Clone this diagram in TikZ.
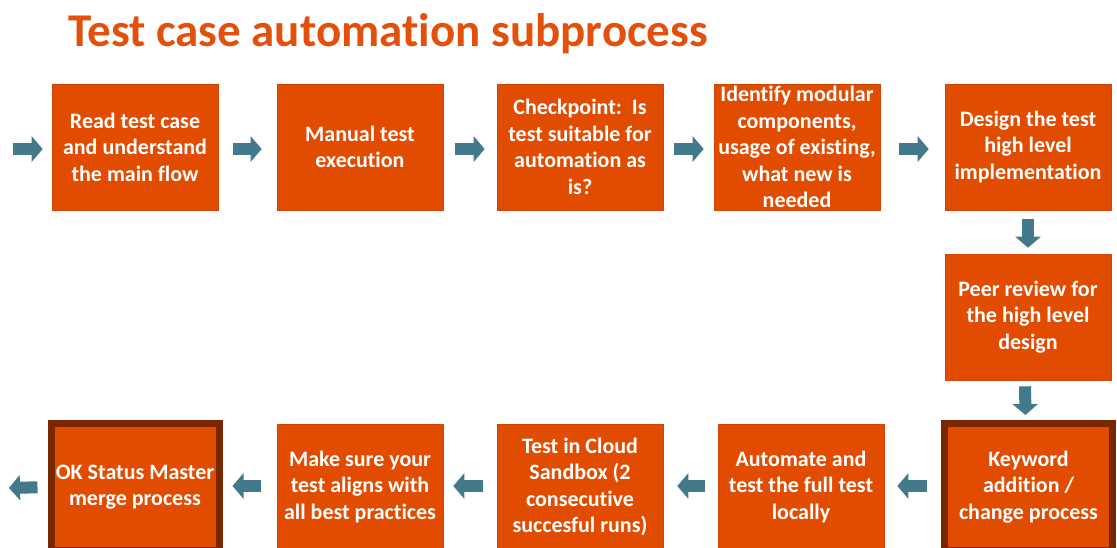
\documentclass[tikz,border=0pt]{standalone}
\usepackage{fontspec}
\setmainfont[Ligatures=NoCommon]{Carlito}
\usetikzlibrary{arrows.meta}
\definecolor{boxorange}{RGB}{226,76,0}
\definecolor{boxedge}{RGB}{205,70,8}
\definecolor{boxbrown}{RGB}{120,39,0}
\definecolor{flowteal}{RGB}{66,122,139}
\definecolor{titleorange}{RGB}{226,80,12}
\tikzset{
  stepbox/.style={rectangle, fill=boxorange, draw=boxedge, line width=0.6pt,
    minimum width=166pt, minimum height=126pt, inner sep=0pt, text=white,
    font=\bfseries\fontsize{22}{26.5}\selectfont, align=center},
  gatebox/.style={stepbox, draw=boxbrown, line width=7pt,
    minimum width=168pt, minimum height=127pt},
  flow/.style={draw=flowteal, line width=12pt,
    -{Triangle[length=11pt,width=25pt]}}
}
\begin{document}
\begin{tikzpicture}[x=1pt,y=-1pt]
\useasboundingbox (0,0) rectangle (1117,547);
\clip (0,0) rectangle (1117,547);

\node[anchor=base west, text=titleorange, font=\bfseries\fontsize{47}{52}\selectfont, inner sep=0pt]
  (title) at (68,46) {Test case automation subprocess};

% top row
\node[stepbox] (b1) at (135,147) {Read test case\\and understand\\the main flow};
\node[stepbox] (b2) at (360,147) {Manual test\\execution};
\node[stepbox] (b3) at (580,147) {Checkpoint:\ \ Is\\test suitable for\\automation as\\is?};
\node[stepbox] (b4) at (797,147) {Identify modular\\components,\\usage of existing,\\what new is\\needed};
\node[stepbox] (b5) at (1028,147) {Design the test\\high level\\implementation};
% right column
\node[stepbox] (b6) at (1028,317) {Peer review for\\the high level\\design};
% bottom row
\node[gatebox] (b7) at (1028.5,487) {Keyword\\addition /\\change process};
\node[stepbox] (b8) at (801,487) {Automate and\\test the full test\\locally};
\node[stepbox] (b9) at (580,487) {Test in Cloud\\Sandbox (2\\consecutive\\succesful runs)};
\node[stepbox] (b10) at (360,487) {Make sure your\\test aligns with\\all best practices};
\node[gatebox] (b11) at (135,487) {OK Status Master\\merge process};

\coordinate (in) at (13,149);
\coordinate (out) at (9,488);

% connectors
\draw[flow, shorten >=9pt] (in) -- ([yshift=-2pt]b1.west);
\draw[flow, shorten <=15pt, shorten >=15pt] ([yshift=-2pt]b1.east) -- ([yshift=-2pt]b2.west);
\draw[flow, shorten <=12pt, shorten >=12pt] ([yshift=-2pt]b2.east) -- ([yshift=-2pt]b3.west);
\draw[flow, shorten <=11pt, shorten >=10pt] ([yshift=-2pt]b3.east) -- ([yshift=-2pt]b4.west);
\draw[flow, shorten <=19pt, shorten >=16pt] ([yshift=-2pt]b4.east) -- ([yshift=-2pt]b5.west);
\draw[flow, shorten <=9pt, shorten >=6pt] (b5.south) -- (b6.north);
\draw[flow, shorten <=6pt, shorten >=5pt] ([xshift=-3pt]b6.south) -- ([xshift=-3pt]b7.north);
\draw[flow, shorten <=14pt, shorten >=13pt] ([yshift=1pt]b7.west) -- ([yshift=1pt]b8.east);
\draw[flow, shorten <=13pt, shorten >=14pt] ([yshift=1pt]b8.west) -- ([yshift=1pt]b9.east);
\draw[flow, shorten <=14pt, shorten >=10pt] ([yshift=1pt]b9.west) -- ([yshift=1pt]b10.east);
\draw[flow, shorten <=16pt, shorten >=10pt] ([yshift=1pt]b10.west) -- ([yshift=1pt]b11.east);
\draw[flow, shorten <=10pt] (b11.west) -- (out);
\end{tikzpicture}
\end{document}
